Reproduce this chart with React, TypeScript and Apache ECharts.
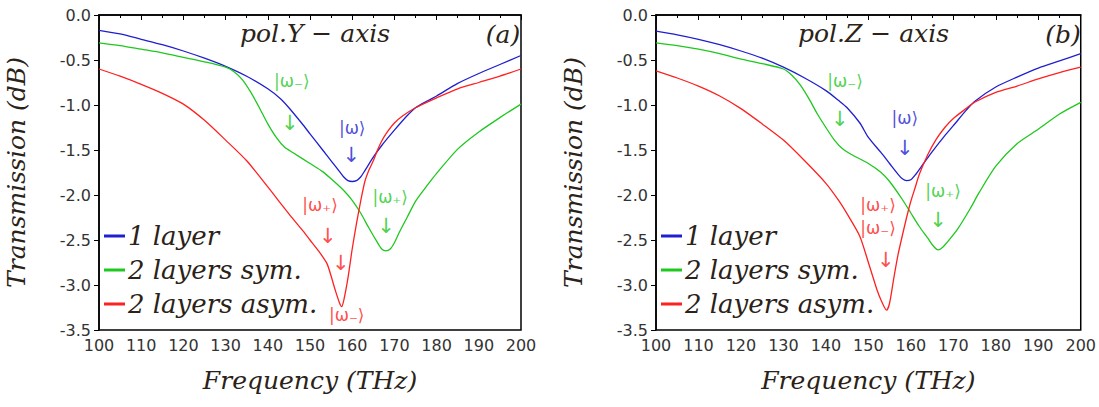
import React, { useEffect, useRef } from "react";
import * as echarts from "echarts";

const xTicksMin = 100;
const xTicksMax = 200;
const yMin = -3.5;
const yMax = 0;

const seriesNames = ["1 layer", "2 layers sym.", "2 layers asym."];
const seriesColors = ["#1f1fd0", "#1ec81e", "#ff2020"];

const panelTitles = ["pol.Y \u2212 axis", "pol.Z \u2212 axis"];
const panelLetters = ["(a)", "(b)"];

const blueA = [[100,-0.17],[105,-0.21],[110,-0.27],[115,-0.33],[120,-0.40],[125,-0.48],[130,-0.57],[135,-0.68],[140,-0.82],[143,-0.93],[145,-1.03],[148,-1.2],[150,-1.32],[153,-1.5],[155,-1.62],[157,-1.74],[158,-1.80],[159,-1.84],[160,-1.85],[161,-1.84],[162,-1.80],[163,-1.73],[165,-1.58],[167,-1.45],[170,-1.28],[173,-1.12],[175,-1.03],[178,-0.95],[180,-0.90],[185,-0.76],[190,-0.65],[195,-0.55],[200,-0.45]];
const greenA = [[100,-0.31],[105,-0.34],[110,-0.38],[115,-0.42],[120,-0.47],[125,-0.52],[130,-0.58],[132,-0.63],[134,-0.72],[136,-0.86],[138,-1.03],[140,-1.21],[142,-1.36],[144,-1.47],[146,-1.53],[150,-1.65],[153,-1.74],[155,-1.82],[158,-1.95],[160,-2.06],[162,-2.2],[164,-2.37],[166,-2.53],[167,-2.6],[168,-2.62],[169,-2.6],[170,-2.53],[171,-2.43],[173,-2.25],[175,-2.07],[178,-1.88],[180,-1.76],[185,-1.49],[190,-1.30],[195,-1.14],[200,-0.99]];
const redA = [[100,-0.60],[105,-0.68],[110,-0.77],[115,-0.87],[120,-0.99],[125,-1.17],[130,-1.39],[135,-1.62],[140,-1.91],[143,-2.09],[145,-2.21],[148,-2.38],[150,-2.50],[152,-2.62],[154,-2.76],[155,-2.9],[156,-3.06],[157,-3.2],[157.5,-3.24],[158,-3.17],[159,-2.92],[160,-2.6],[161,-2.32],[162,-2.07],[163,-1.85],[164,-1.72],[165,-1.62],[166,-1.5],[167,-1.4],[168,-1.32],[170,-1.2],[172,-1.12],[175,-1.03],[180,-0.92],[185,-0.82],[190,-0.75],[195,-0.68],[200,-0.60]];

const blueB = [[100,-0.18],[105,-0.22],[110,-0.27],[115,-0.33],[120,-0.40],[125,-0.48],[130,-0.58],[135,-0.70],[140,-0.84],[143,-0.95],[145,-1.03],[148,-1.2],[150,-1.36],[153,-1.53],[155,-1.65],[157,-1.77],[158,-1.82],[159,-1.84],[160,-1.83],[161,-1.78],[163,-1.65],[165,-1.52],[168,-1.34],[170,-1.23],[173,-1.06],[175,-0.96],[180,-0.80],[185,-0.69],[190,-0.59],[195,-0.51],[200,-0.43]];
const greenB = [[100,-0.31],[105,-0.34],[110,-0.38],[115,-0.43],[120,-0.49],[125,-0.54],[130,-0.60],[132,-0.67],[134,-0.78],[136,-0.93],[138,-1.10],[140,-1.25],[142,-1.39],[144,-1.49],[146,-1.55],[150,-1.65],[153,-1.75],[155,-1.85],[158,-2.05],[160,-2.2],[162,-2.35],[164,-2.48],[165,-2.55],[166.4,-2.61],[167.5,-2.58],[169,-2.5],[171,-2.38],[174,-2.15],[176,-1.98],[180,-1.68],[185,-1.43],[190,-1.27],[195,-1.10],[200,-0.97]];
const redB = [[100,-0.62],[105,-0.70],[110,-0.79],[115,-0.90],[120,-1.04],[125,-1.21],[130,-1.39],[135,-1.62],[140,-1.87],[143,-2.06],[145,-2.21],[148,-2.46],[150,-2.75],[151,-2.9],[152,-3.05],[153,-3.17],[154.3,-3.28],[155,-3.2],[156,-2.92],[157,-2.66],[158,-2.45],[159,-2.25],[160,-2.07],[161,-1.92],[162,-1.77],[164,-1.55],[166,-1.38],[168,-1.25],[170,-1.15],[173,-1.04],[175,-0.97],[180,-0.86],[185,-0.79],[190,-0.71],[195,-0.64],[200,-0.58]];

// [x, y, text, colour index]
const notesA: [number, number, string, number][] = [
  [145.7, -0.73, "|\u03c9\u208b\u27e9", 1],
  [145.2, -1.2, "\u2193", 1],
  [160.0, -1.26, "|\u03c9\u27e9", 0],
  [159.8, -1.55, "\u2193", 0],
  [169.0, -2.02, "|\u03c9\u208a\u27e9", 1],
  [168.0, -2.34, "\u2193", 1],
  [152.4, -2.11, "|\u03c9\u208a\u27e9", 2],
  [154.2, -2.45, "\u2193", 2],
  [157.3, -2.76, "\u2193", 2],
  [158.7, -3.33, "|\u03c9\u208b\u27e9", 2],
];
const notesB: [number, number, string, number][] = [
  [144.5, -0.73, "|\u03c9\u208b\u27e9", 1],
  [143.3, -1.15, "\u2193", 1],
  [158.6, -1.14, "|\u03c9\u27e9", 0],
  [158.6, -1.48, "\u2193", 0],
  [167.6, -1.96, "|\u03c9\u208a\u27e9", 1],
  [166.4, -2.28, "\u2193", 1],
  [152.3, -2.11, "|\u03c9\u208a\u27e9", 2],
  [152.3, -2.37, "|\u03c9\u208b\u27e9", 2],
  [154.1, -2.72, "\u2193", 2],
];

const panelData = [
  [blueA, greenA, redA],
  [blueB, greenB, redB],
];
const panelNotes = [notesA, notesB];

const gridLeft = [99, 656];
const gridWidth = [422, 425];

const serif = "'DejaVu Serif', 'Liberation Serif', serif";
const sans = "'DejaVu Sans', Verdana, sans-serif";

export default function App() {
  const ref = useRef<HTMLDivElement>(null);
  useEffect(() => {
    document.body.style.margin = "0";
    const chart = echarts.init(ref.current!, undefined, { renderer: "svg" });
    const grids: any[] = [];
    const xAxes: any[] = [];
    const yAxes: any[] = [];
    const series: any[] = [];
    const legends: any[] = [];
    const titles: any[] = [];
    for (let p = 0; p < 2; p++) {
      grids.push({
        left: gridLeft[p],
        width: gridWidth[p],
        top: 15,
        height: 315,
        show: true,
        borderColor: "#000",
        borderWidth: 1.5,
        backgroundColor: "#fff",
      });
      xAxes.push({
        type: "value",
        gridIndex: p,
        min: xTicksMin,
        max: xTicksMax,
        interval: 10,
        name: "Frequency (THz)",
        nameLocation: "middle",
        nameGap: 38,
        nameTextStyle: { fontFamily: serif, fontStyle: "italic", fontSize: 25, color: "#2b2218" },
        axisLine: { show: true, lineStyle: { color: "#000", width: 1.5 } },
        axisTick: { show: true, length: 5, lineStyle: { color: "#000" } },
        minorTick: { show: true, splitNumber: 2, length: 3, lineStyle: { color: "#000" } },
        splitLine: { show: false },
        axisLabel: { fontFamily: sans, fontSize: 16, color: "#333", margin: 7 },
      });
      yAxes.push({
        type: "value",
        gridIndex: p,
        min: yMin,
        max: yMax,
        interval: 0.5,
        name: "Transmission (dB)",
        nameLocation: "middle",
        nameGap: 70,
        nameRotate: 90,
        nameTextStyle: { fontFamily: serif, fontStyle: "italic", fontSize: 25, color: "#2b2218" },
        axisLine: { show: true, lineStyle: { color: "#000", width: 1.5 } },
        axisTick: { show: true, length: 5, lineStyle: { color: "#000" } },
        splitLine: { show: false },
        axisLabel: {
          fontFamily: sans,
          fontSize: 16,
          color: "#333",
          margin: 8,
          formatter: (v: number) => v.toFixed(1),
        },
      });
      panelData[p].forEach((d, i) => {
        series.push({
          type: "line",
          name: seriesNames[i],
          xAxisIndex: p,
          yAxisIndex: p,
          data: d,
          smooth: 0.25,
          showSymbol: false,
          symbol: "none",
          lineStyle: { color: seriesColors[i], width: 1.3 },
          itemStyle: { color: seriesColors[i] },
          z: 3,
        });
      });
      series.push({
        type: "scatter",
        name: "notes" + p,
        xAxisIndex: p,
        yAxisIndex: p,
        symbolSize: 0,
        silent: true,
        z: 5,
        label: {
          show: true,
          position: "inside",
          formatter: "{b}",
          fontFamily: "'DejaVu Sans', sans-serif",
          fontSize: 17,
        },
        data: panelNotes[p].map((n) => ({
          name: n[2],
          value: [n[0], n[1]],
          label: { color: seriesColors[n[3]], fontSize: n[2] === "\u2193" ? 21 : 17 },
        })),
      });
      legends.push({
        data: seriesNames,
        orient: "vertical",
        left: gridLeft[p] + 5,
        top: 223,
        icon: "rect",
        itemWidth: 21,
        itemHeight: 3,
        itemGap: 8,
        padding: 0,
        selectedMode: false,
        textStyle: { fontFamily: serif, fontStyle: "italic", fontSize: 26, color: "#2b2218", padding: [0, 0, 0, -2] },
      });
      titles.push({
        text: panelTitles[p],
        left: gridLeft[p] + gridWidth[p] * 0.5,
        textAlign: "center",
        top: 16,
        textStyle: { fontFamily: serif, fontStyle: "italic", fontWeight: "normal", fontSize: 25, color: "#2b2218" },
      });
      titles.push({
        text: panelLetters[p],
        left: gridLeft[p] + gridWidth[p] - 23,
        textAlign: "center",
        top: 17,
        textStyle: { fontFamily: serif, fontStyle: "italic", fontWeight: "normal", fontSize: 25, color: "#2b2218" },
      });
    }
    chart.setOption({
      animation: false,
      backgroundColor: "#fff",
      title: titles,
      legend: legends,
      grid: grids,
      xAxis: xAxes,
      yAxis: yAxes,
      series,
    });
    return () => chart.dispose();
  }, []);
  return <div ref={ref} style={{ width: 1099, height: 407 }} />;
}
